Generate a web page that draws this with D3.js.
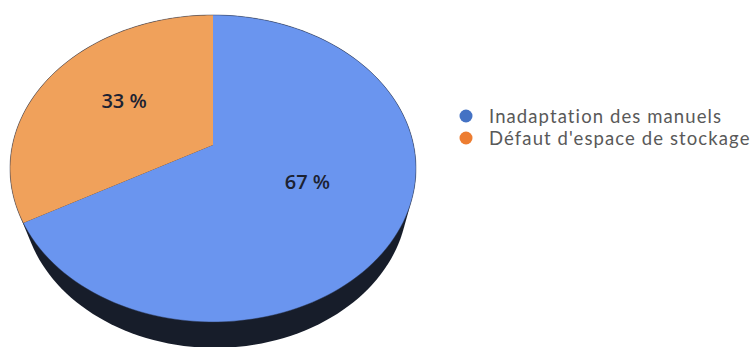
<!DOCTYPE html>
<html><head><meta charset="utf-8">
<script src="https://cdn.jsdelivr.net/npm/d3@7"></script>
<style>html,body{margin:0;padding:0;background:#fff;}svg{display:block;}</style>
</head><body>
<svg id="chart" width="755" height="347"></svg>
<script>
const categories = ["Inadaptation des manuels", "Défaut d'espace de stockage"];
const values = [67, 33];
const sliceColors = ["#6a95ef", "#f0a15b"];
const legendColors = ["#4472c4", "#ed7d31"];

const svg = d3.select("#chart");

// perspective projection of the unit disc
const cx = 213, cy = 145, A = 200.6, B = 149.9, k = -0.153;
function proj(u, v) { const w = 1 + k * v; return [cx + A * u / w, cy + B * v / w]; }
function polar(a, r) { return proj(r * Math.sin(a), -r * Math.cos(a)); }

// bottom face: smaller (farther away) and lower
const outline = d3.range(0, 361, 2).map(d => polar(d * Math.PI / 180, 1));
const bottom = outline.map(p => [213 + (p[0] - 213) * 0.95 + 2, 168 + (p[1] - 168) * 0.98 + 29]);
const hull = d3.polygonHull(outline.concat(bottom));
svg.append("path").attr("d", "M" + hull.join("L") + "Z").attr("fill", "#171d2a");

const pie = d3.pie().sort(null).value(d => d)(values);
function slicePath(d) {
  const n = 120, pts = [proj(0, 0)];
  for (let i = 0; i <= n; i++) pts.push(polar(d.startAngle + (d.endAngle - d.startAngle) * i / n, 1));
  return "M" + pts.join("L") + "Z";
}
svg.append("g").selectAll("path").data(pie).join("path")
  .attr("d", slicePath).attr("fill", (d, i) => sliceColors[i]);

// subtle rim
svg.append("path").attr("d", "M" + outline.join("L") + "Z")
  .attr("fill", "none").attr("stroke", "#2b3550").attr("stroke-opacity", 0.45).attr("stroke-width", 1);

// labels
svg.append("g").selectAll("text").data(pie).join("text")
  .attr("x", d => polar((d.startAngle + d.endAngle) / 2, 0.53)[0] - 1)
  .attr("y", d => polar((d.startAngle + d.endAngle) / 2, 0.53)[1] - 6)
  .attr("text-anchor", "middle").attr("dominant-baseline", "central")
  .attr("font-family", "'Open Sans', sans-serif").attr("font-weight", 600).attr("font-size", 20)
  .attr("fill", "#1c2232")
  .text(d => d.data + " %");

// legend
const lg = svg.append("g").selectAll("g").data(categories).join("g")
  .attr("transform", (d, i) => `translate(466,${116 + i * 22})`);
lg.append("circle").attr("r", 6.5).attr("fill", (d, i) => legendColors[i]);
lg.append("text").attr("x", 23).attr("y", 0).attr("dominant-baseline", "central")
  .attr("font-family", "Lato, sans-serif").attr("font-size", 18.5).attr("letter-spacing", 1.1)
  .attr("fill", "#595959")
  .text(d => d);
</script>
</body></html>
